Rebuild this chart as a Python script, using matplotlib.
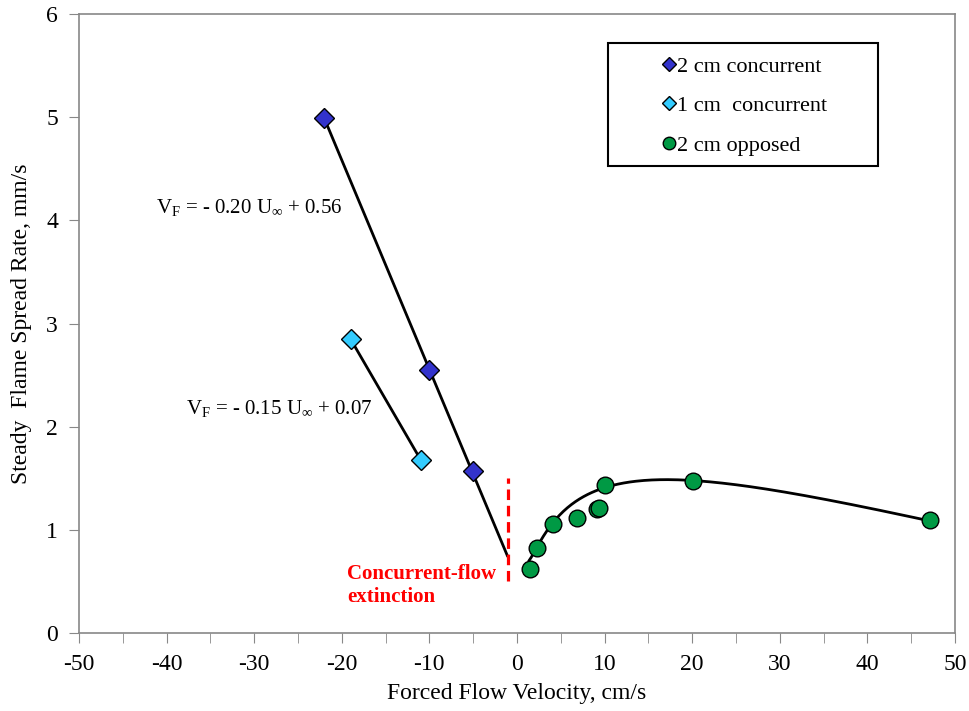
import numpy as np
import matplotlib
matplotlib.use("Agg")
import matplotlib.pyplot as plt
from matplotlib.patches import Rectangle

plt.rcParams["font.family"] = ["Liberation Serif", "DejaVu Serif"]
plt.rcParams["mathtext.fontset"] = "custom"
plt.rcParams["mathtext.rm"] = "Liberation Serif"
plt.rcParams["mathtext.it"] = "Liberation Serif:italic"
plt.rcParams["axes.unicode_minus"] = False

# 2 cm concurrent
conc2_x = [-22, -10, -5]
conc2_y = [4.99, 2.55, 1.57]
# fit line for 2 cm concurrent (drawn down to extinction)
fit2_x = [-22, -1.1]
fit2_y = [4.99, 0.75]

# 1 cm concurrent
conc1_x = [-19, -11]
conc1_y = [2.85, 1.68]

# 2 cm opposed
opp_x = [1.5, 2.25, 4.1, 6.8, 9.1, 9.4, 10.0, 20.1, 47.1]
opp_y = [0.62, 0.82, 1.06, 1.11, 1.20, 1.21, 1.43, 1.47, 1.10]

# trend curve anchors
curve_x = [1.4, 2.25, 4.1, 10.0, 16.3, 20.1, 32.3, 47.1]
curve_y = [0.71, 0.82, 1.06, 1.43, 1.49, 1.47, 1.32, 1.10]

# extinction marker
ext_x = -1
ext_y = [0.5, 1.5]

fig = plt.figure(figsize=(9.7, 7.11), dpi=100)
ax = fig.add_axes([0.0814, 0.1097, 0.9031, 0.8706])

# trend curve (polynomial fit through the anchors)
coef = np.polyfit(np.log(curve_x), curve_y, 3)
xs = np.linspace(curve_x[0], curve_x[-1], 200)
ax.plot(xs, np.polyval(coef, np.log(xs)), color="black", lw=2, zorder=2)

ax.plot(fit2_x, fit2_y, color="black", lw=2, zorder=2)
ax.plot(conc1_x, conc1_y, color="black", lw=2, zorder=2)
ax.plot([ext_x, ext_x], ext_y, color="red", lw=2.3, ls=(0, (3.3, 1.8)), zorder=2)

ax.plot(conc2_x, conc2_y, ls="none", marker="D", ms=10, mfc="#3333CC",
        mec="black", mew=1, zorder=3)
ax.plot(conc1_x, conc1_y, ls="none", marker="D", ms=10, mfc="#33CCFF",
        mec="black", mew=1, zorder=3)
ax.plot(opp_x, opp_y, ls="none", marker="o", ms=12, mfc="#009944",
        mec="black", mew=1, zorder=3)

ax.text(-30.6, 4.12, r"V$_\mathrm{F}$ = - 0.20 U$_\infty$ + 0.56", fontsize=15,
        ha="center", va="center")
ax.text(-27.2, 2.18, r"V$_\mathrm{F}$ = - 0.15 U$_\infty$ + 0.07", fontsize=15,
        ha="center", va="center")
ax.text(-19.4, 0.46, "Concurrent-flow\nextinction", color="red", fontsize=15,
        fontweight="bold", ha="left", va="center", linespacing=1.2)

ax.set_xlim(-50, 50)
ax.set_ylim(0, 6)
ax.set_xticks(np.arange(-50, 51, 10))
ax.set_xticks(np.arange(-45, 50, 10), minor=True)
ax.set_yticks(np.arange(0, 7, 1))
ax.tick_params(axis="both", which="both", direction="out", length=7,
               color="#888888", labelsize=17, pad=8)
for sp in ax.spines.values():
    sp.set_color("#888888")
    sp.set_linewidth(1.2)

ax.set_xlabel("Forced Flow Velocity, cm/s", fontsize=17, labelpad=6)
ax.set_ylabel("Steady  Flame Spread Rate, mm/s", fontsize=17, labelpad=10)

# legend box
box = Rectangle((0.604, 0.755), 0.308, 0.198, transform=ax.transAxes,
                fill=False, edgecolor="black", lw=1.5, zorder=5)
ax.add_patch(box)
h1, = ax.plot([], [], ls="none", marker="D", ms=7, mfc="#3333CC", mec="black", mew=1)
h2, = ax.plot([], [], ls="none", marker="D", ms=7, mfc="#33CCFF", mec="black", mew=1)
h3, = ax.plot([], [], ls="none", marker="o", ms=9, mfc="#009944", mec="black", mew=1)
ax.legend([h1, h2, h3], ["2 cm concurrent", "1 cm  concurrent", "2 cm opposed"],
          loc="upper left", bbox_to_anchor=(0.655, 0.95), frameon=False,
          fontsize=16, handlelength=0.5, handletextpad=0.1, labelspacing=0.85,
          borderpad=0)

fig.savefig("out.png", dpi=100)
